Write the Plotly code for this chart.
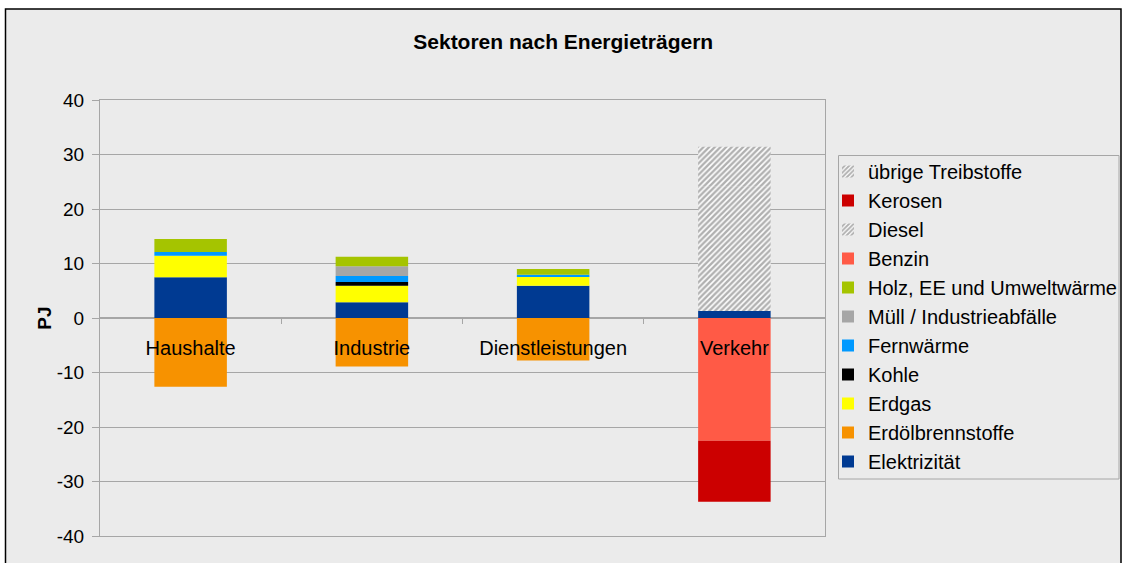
import plotly.graph_objects as go

categories = ["Haushalte", "Industrie", "Dienstleistungen", "Verkehr"]

elektrizitaet = [7.5, 2.9, 5.9, 1.3]
erdoelbrennstoffe = [-12.6, -8.9, -7.8, 0]
erdgas = [3.9, 3.0, 1.7, 0]
kohle = [0, 0.7, 0, 0]
fernwaerme = [0.7, 1.1, 0.35, 0]
muell = [0, 1.8, 0, 0]
holz = [2.4, 1.75, 1.05, 0]
benzin = [0, 0, 0, -22.5]
diesel = [0, 0, 0, 22.8]
kerosen = [0, 0, 0, -11.2]
uebrige = [0, 0, 0, 7.3]

y_ticks = [40, 30, 20, 10, 0, -10, -20, -30, -40]
y_tick_labels = ["40", "30", "20", "10", "0", "-10", "-20", "-30", "-40"]

series = [
    ("Elektrizität", elektrizitaet, "#003A92", False),
    ("Erdölbrennstoffe", erdoelbrennstoffe, "#F79200", False),
    ("Erdgas", erdgas, "#FFFF00", False),
    ("Kohle", kohle, "#000000", False),
    ("Fernwärme", fernwaerme, "#0099FF", False),
    ("Müll / Industrieabfälle", muell, "#A6A6A6", False),
    ("Holz, EE und Umweltwärme", holz, "#A5C400", False),
    ("Benzin", benzin, "#FF5A46", False),
    ("Diesel", diesel, "#8C8C8C", True),
    ("Kerosen", kerosen, "#CC0000", False),
    ("übrige Treibstoffe", uebrige, "#8C8C8C", True),
]

BG = "#EBEBEB"
GRID = "#A6A6A6"
FONT = "Liberation Sans, Arial, sans-serif"

fig = go.Figure()
xs = list(range(len(categories)))
for name, vals, color, hatched in series:
    marker = dict(color=color, line=dict(width=0))
    if hatched:
        marker = dict(color="#FFFFFF", line=dict(width=0),
                      pattern=dict(shape="/", fgcolor="#616161", bgcolor="#FFFFFF",
                                   size=4, solidity=0.6))
    fig.add_trace(go.Bar(x=xs, y=vals, name=name, marker=marker, width=0.40,
                         hoverinfo="name+y"))

# plot area: x 100..825, y 100..536 px
L, R, T, B = 100, 297, 100, 27
W, H = 1122 - L - R, 563 - T - B

def px_x(p):
    return (p - L) / W

def px_y(p):
    return (563 - B - p) / H

fig.update_layout(
    width=1122, height=563,
    margin=dict(l=L, r=R, t=T, b=B, autoexpand=False),
    barmode="relative",
    paper_bgcolor="#FFFFFF",
    plot_bgcolor="rgba(0,0,0,0)",
    font=dict(family=FONT, size=20, color="#000000"),
    title=dict(text="<b>Sektoren nach Energieträgern</b>", xref="container",
               x=0.502, y=1 - 42 / 563, xanchor="center", yanchor="middle",
               font=dict(size=21, family=FONT, color="#000000")),
    xaxis=dict(range=[-0.5, 3.5], showticklabels=False, showgrid=False,
               zeroline=False, showline=True, mirror=True, linecolor=GRID,
               linewidth=1, ticks=""),
    xaxis2=dict(overlaying="x", anchor="free", position=0.5, side="bottom",
                range=[-0.5, 3.5], tickmode="array", tickvals=xs,
                ticktext=categories, ticks="", showgrid=False, zeroline=False,
                showline=False, ticklabelstandoff=16,
                tickfont=dict(size=20, family=FONT, color="#000000"),
                minor=dict(tickvals=[0.5, 1.5, 2.5], ticks="outside", ticklen=5,
                           tickcolor=GRID, showgrid=False)),
    yaxis=dict(range=[-40, 40], tickmode="array", tickvals=y_ticks,
               ticktext=y_tick_labels,
               showgrid=True, gridcolor=GRID, gridwidth=1,
               zeroline=True, zerolinecolor=GRID, zerolinewidth=1.5,
               showline=True, mirror=True, linecolor=GRID, linewidth=1,
               ticks="outside", ticklen=7, tickcolor=GRID,
               ticklabelstandoff=4,
               tickfont=dict(size=19, family=FONT, color="#000000"),
               title=dict(text="<b>PJ</b>", standoff=0,
                          font=dict(size=19, family=FONT, color="#000000"))),
    legend=dict(traceorder="reversed", x=px_x(828), y=px_y(152),
                xanchor="left", yanchor="top", bgcolor="rgba(0,0,0,0)",
                borderwidth=0, itemwidth=30,
                font=dict(size=20, family=FONT, color="#000000"),
                itemclick=False),
    showlegend=True,
    shapes=[
        dict(type="rect", xref="paper", yref="paper",
             x0=px_x(5.5), x1=px_x(1121), y0=px_y(580), y1=px_y(9),
             line=dict(color="#000000", width=1.5), fillcolor=BG,
             layer="below"),
        dict(type="rect", xref="paper", yref="paper",
             x0=px_x(838.5), x1=px_x(1119), y0=px_y(479), y1=px_y(155.5),
             line=dict(color=GRID, width=1), fillcolor=BG,
             layer="below"),
    ],
)

# invisible trace on xaxis2 so the overlay axis renders
fig.add_trace(go.Scatter(x=[0], y=[0], xaxis="x2", mode="markers",
                         marker=dict(opacity=0), showlegend=False,
                         hoverinfo="skip"))

fig.write_html("out.html", config={"displayModeBar": False},
               post_script="document.body.style.margin='0px';document.body.style.padding='0px';")
